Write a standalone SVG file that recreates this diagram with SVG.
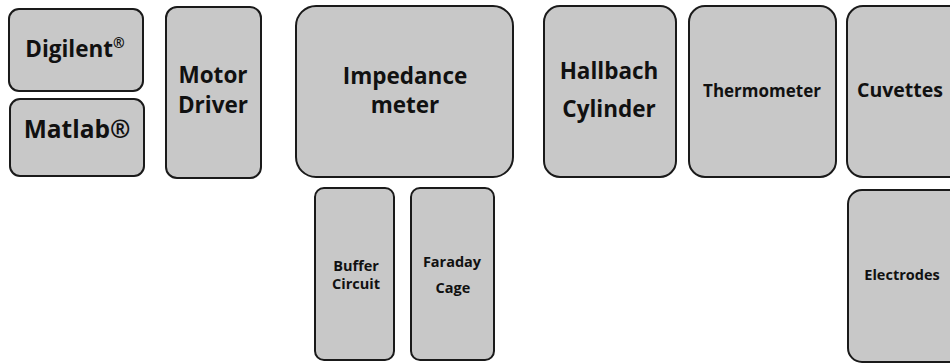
<svg xmlns="http://www.w3.org/2000/svg" width="950" height="363" viewBox="0 0 950 363">
<style>
.b{fill:#c8c8c8;stroke:#1a1a1a;stroke-width:2}
text{font-family:"Open Sans","Noto Sans",sans-serif;font-weight:700;fill:#111;text-anchor:middle}
.xl{font-size:24.5px}
.l{font-size:22.5px}
.c{font-size:19.5px}
.m{font-size:17px}
.s{font-size:14.5px}
</style>
<rect width="950" height="363" fill="#fff"/>
<g id="digilent"><rect class="b" x="9" y="9" width="134" height="82" rx="10"/><text class="l" x="75" y="57">Digilent<tspan font-size="14" dy="-9">®</tspan></text></g>
<g id="matlab"><rect class="b" x="10" y="99" width="134" height="77" rx="10"/><text class="xl" x="77" y="138">Matlab®</text></g>
<g id="motor-driver"><rect class="b" x="166" y="7" width="95" height="171" rx="11"/><text class="l" x="213" y="83">Motor</text><text class="l" x="213" y="113">Driver</text></g>
<g id="impedance-meter"><rect class="b" x="296" y="6" width="217" height="171" rx="20"/><text class="l" x="405" y="84">Impedance</text><text class="l" x="405" y="113">meter</text></g>
<g id="hallbach-cylinder"><rect class="b" x="544" y="6" width="132" height="171" rx="16"/><text class="l" x="609" y="79">Hallbach</text><text class="l" x="609" y="117">Cylinder</text></g>
<g id="thermometer"><rect class="b" x="689" y="6" width="147" height="171" rx="16"/><text class="m" x="762" y="97">Thermometer</text></g>
<g id="cuvettes"><rect class="b" x="847" y="6" width="120" height="171" rx="16"/><text class="c" x="900" y="97">Cuvettes</text></g>
<g id="buffer-circuit"><rect class="b" x="315" y="188" width="79" height="172" rx="9"/><text class="s" x="356" y="271">Buffer</text><text class="s" x="356" y="289">Circuit</text></g>
<g id="faraday-cage"><rect class="b" x="411" y="188" width="83" height="172" rx="9"/><text class="s" x="452" y="267">Faraday</text><text class="s" x="453" y="293">Cage</text></g>
<g id="electrodes"><rect class="b" x="848" y="190" width="120" height="172" rx="14"/><text class="s" x="902" y="280">Electrodes</text></g>
<g id="connectors"></g>
</svg>
